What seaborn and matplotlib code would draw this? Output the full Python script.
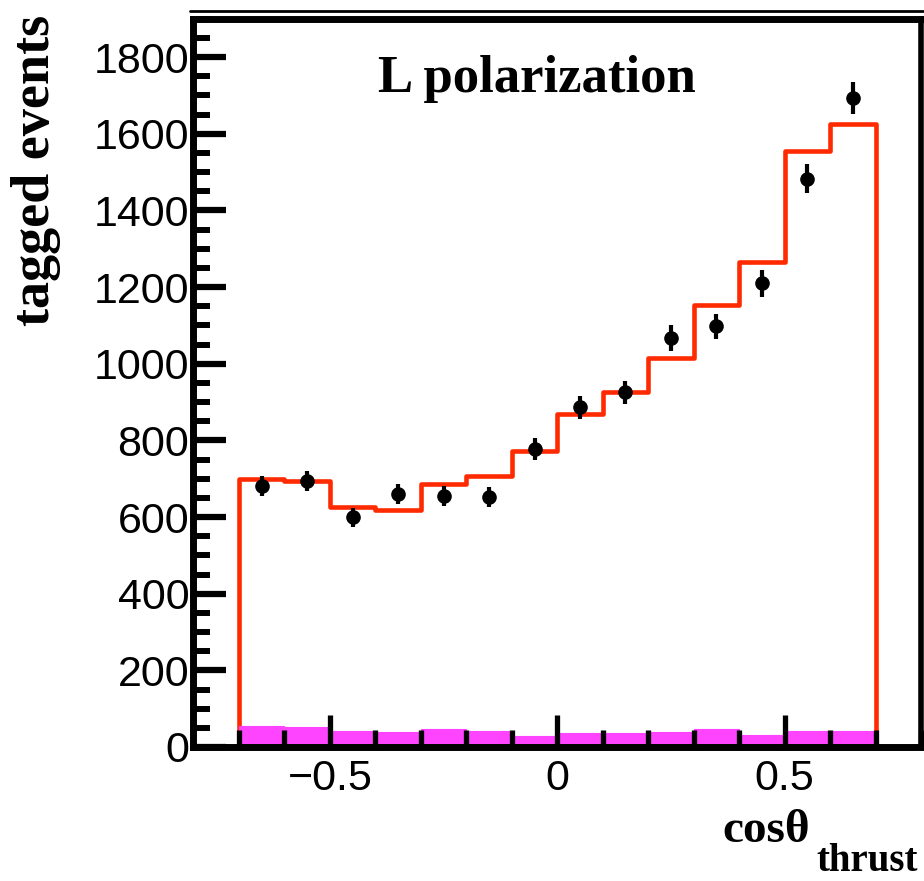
import numpy as np
import pandas as pd
import matplotlib
matplotlib.use("Agg")
import matplotlib.pyplot as plt
import seaborn as sns
from matplotlib.ticker import MultipleLocator, FixedLocator
from matplotlib.lines import Line2D

# ---- data ----
bin_edges = [-0.7, -0.6, -0.5, -0.4, -0.3, -0.2, -0.1, 0.0, 0.1, 0.2, 0.3, 0.4, 0.5, 0.6, 0.7]
bin_centers = [-0.65, -0.55, -0.45, -0.35, -0.25, -0.15, -0.05, 0.05, 0.15, 0.25, 0.35, 0.45, 0.55, 0.65]
mc_total = [698, 694, 625, 619, 686, 706, 772, 868, 927, 1016, 1152, 1265, 1554, 1626]
background = [55, 53, 43, 40, 46, 41, 28, 36, 37, 39, 46, 32, 42, 42]
data_counts = [681, 694, 599, 661, 656, 652, 778, 886, 926, 1067, 1097, 1210, 1483, 1693]
data_errors = [26, 26, 24, 26, 26, 26, 28, 30, 30, 33, 33, 35, 39, 41]
x_major = [-0.5, 0.0, 0.5]
x_major_labels = ["\u22120.5", "0", "0.5"]
y_major = [0, 200, 400, 600, 800, 1000, 1200, 1400, 1600, 1800]

df = pd.DataFrame({"x": bin_centers, "mc": mc_total, "bkg": background,
                   "data": data_counts, "err": data_errors})

sns.set_style("white")
plt.rcParams["font.family"] = ["Liberation Sans", "DejaVu Sans"]
plt.rcParams["text.color"] = "black"
plt.rcParams["xtick.color"] = "black"
plt.rcParams["ytick.color"] = "black"
plt.rcParams["axes.edgecolor"] = "black"

RED = "#ff2a00"
MAG = "#ff44ff"

fig = plt.figure(figsize=(9.24, 8.81), dpi=100)
ax = fig.add_axes([0.2094, 0.1521, 0.7874, 0.8267])

# MC total (red outline)
sns.histplot(data=df, x="x", weights="mc", bins=bin_edges, element="step",
             fill=True, color=RED, facecolor="none", edgecolor=RED, linewidth=3.3,
             ax=ax, zorder=1.0)
# background (magenta filled)
sns.histplot(data=df, x="x", weights="bkg", bins=bin_edges, element="step",
             fill=True, color=MAG, facecolor=MAG, edgecolor=MAG, linewidth=0.8, alpha=1,
             ax=ax, zorder=1.5)
# data points
ax.errorbar(df["x"], df["data"], yerr=df["err"], fmt="o", color="black",
            markersize=9.5, elinewidth=3.0, capsize=0, zorder=5)

ax.set_xlim(-0.8, 0.8)
ax.set_ylim(0, 1900)

ax.xaxis.set_major_locator(FixedLocator(x_major))
ax.set_xticklabels(x_major_labels)
ax.xaxis.set_minor_locator(MultipleLocator(0.1))
ax.yaxis.set_major_locator(FixedLocator(y_major))
ax.yaxis.set_minor_locator(MultipleLocator(50))

ax.tick_params(axis="y", which="major", direction="in", length=24, width=4.5,
               labelsize=31, pad=3, left=True, right=False, colors="black")
ax.tick_params(axis="y", which="minor", direction="in", length=12.5, width=4.3,
               left=True, right=False, colors="black")
ax.tick_params(axis="x", which="major", direction="in", length=23, width=3.8,
               labelsize=31, pad=9, bottom=True, top=False, colors="black")
ax.tick_params(axis="x", which="minor", direction="in", length=12.5, width=3.8,
               bottom=True, top=False, colors="black")
ax.set_axisbelow(False)

for side in ["left", "bottom", "top"]:
    ax.spines[side].set_linewidth(5.0)
    ax.spines[side].set_color("black")
ax.spines["right"].set_linewidth(4.0)
ax.spines["right"].set_color("black")
for s in ax.spines.values():
    s.set_zorder(7)
    s.set_capstyle("projecting")

ax.set_xlabel("")
ax.set_ylabel("")

# extra thin frame line at the very top
fig.add_artist(Line2D([190 / 924, 923 / 924], [1 - 11 / 881, 1 - 11 / 881],
                      color="black", linewidth=2.0))

serif = ["Liberation Serif", "DejaVu Serif"]
fig.text(378 / 924, 1 - 92 / 881, "L polarization", ha="left", va="baseline",
         fontsize=38, fontweight="bold", family=serif, color="black")
fig.text(49 / 924, 1 - 15 / 881, "tagged events", rotation=90,
         rotation_mode="anchor", ha="right", va="baseline",
         fontsize=39, fontweight="bold", family=serif, color="black")
fig.text(810 / 924, 1 - 842 / 881, "cos\u03b8", ha="right", va="baseline",
         fontsize=34, fontweight="bold", family=serif, color="black")
fig.text(918 / 924, 1 - 871 / 881, "thrust", ha="right", va="baseline",
         fontsize=28, fontweight="bold", family=serif, color="black")

fig.savefig("out.png", dpi=100)
